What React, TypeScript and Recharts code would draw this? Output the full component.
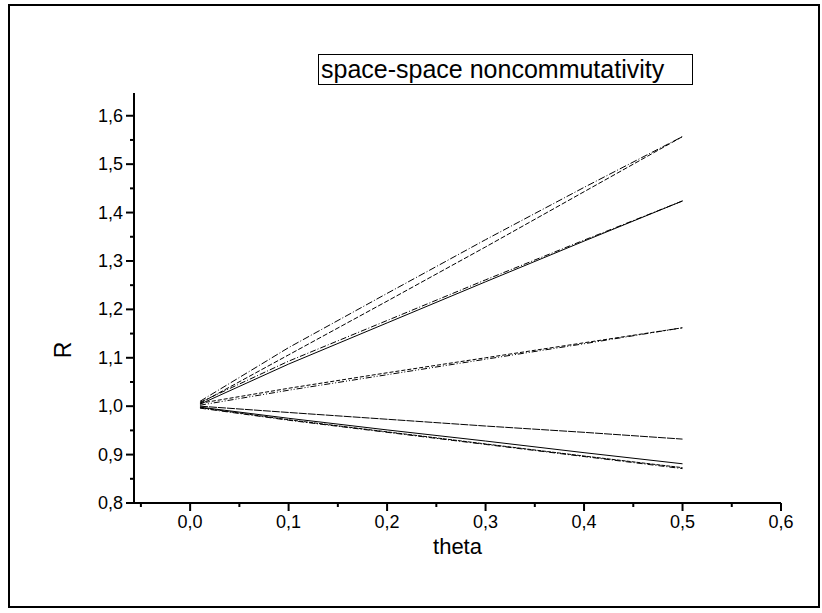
import React from "react";
import { LineChart, Line, XAxis, YAxis } from "recharts";

const thetaValues = [0.01, 0.1, 0.2, 0.3, 0.4, 0.5];
const seriesA = [1.01, 1.121, 1.233, 1.344, 1.452, 1.557];
const seriesB = [1.006, 1.106, 1.217, 1.329, 1.443, 1.557];
const seriesC = [1.008, 1.093, 1.177, 1.261, 1.343, 1.424];
const seriesD = [1.004, 1.087, 1.172, 1.257, 1.341, 1.424];
const seriesE = [1.006, 1.037, 1.069, 1.1, 1.131, 1.162];
const seriesF = [1.002, 1.033, 1.065, 1.097, 1.129, 1.162];
const seriesG = [1.0, 0.987, 0.973, 0.959, 0.946, 0.932];
const seriesH = [0.998, 0.975, 0.951, 0.928, 0.904, 0.881];
const seriesI = [0.997, 0.972, 0.947, 0.922, 0.897, 0.873];
const seriesJ = [0.996, 0.971, 0.946, 0.921, 0.896, 0.871];

const seriesList = [
  { key: "a", values: seriesA, dash: "7 2 1 2" },
  { key: "b", values: seriesB, dash: "5 2" },
  { key: "c", values: seriesC, dash: "6 2 1 2" },
  { key: "d", values: seriesD, dash: "" },
  { key: "e", values: seriesE, dash: "4 2" },
  { key: "f", values: seriesF, dash: "6 2 1 2 1 2" },
  { key: "g", values: seriesG, dash: "8 1" },
  { key: "h", values: seriesH, dash: "" },
  { key: "i", values: seriesI, dash: "4 1" },
  { key: "j", values: seriesJ, dash: "6 2 1 2" },
];

const xTicks = [-0.05, 0, 0.05, 0.1, 0.15, 0.2, 0.25, 0.3, 0.35, 0.4, 0.45, 0.5, 0.55, 0.6];
const yTicks = [0.8, 0.85, 0.9, 0.95, 1.0, 1.05, 1.1, 1.15, 1.2, 1.25, 1.3, 1.35, 1.4, 1.45, 1.5, 1.55, 1.6];

const data = thetaValues.map((t, i) => {
  const row: Record<string, number> = { theta: t };
  seriesList.forEach((s) => {
    row[s.key] = s.values[i];
  });
  return row;
});

const FONT = "'Liberation Sans', Arial, sans-serif";

const isMajor = (v: number) => Math.abs(v * 10 - Math.round(v * 10)) < 1e-6;
const fmt = (v: number) => v.toFixed(1).replace(".", ",");

const XTick = (props: any) => {
  const { x, y, payload } = props;
  const v = payload.value as number;
  const major = isMajor(v);
  return (
    <g>
      <line x1={x} y1={y} x2={x} y2={y + (major ? 8 : 4)} stroke="#000" strokeWidth={2} />
      {major && (
        <text x={x} y={y + 25} textAnchor="middle" fontSize={18} fontFamily={FONT} fill="#000">
          {fmt(v)}
        </text>
      )}
    </g>
  );
};

const YTick = (props: any) => {
  const { x, y, payload } = props;
  const v = payload.value as number;
  const major = isMajor(v);
  return (
    <g>
      <line x1={x} y1={y} x2={x - (major ? 8 : 4)} y2={y} stroke="#000" strokeWidth={2} />
      {major && (
        <text x={x - 11} y={y + 6} textAnchor="end" fontSize={18} fontFamily={FONT} fill="#000">
          {fmt(v)}
        </text>
      )}
    </g>
  );
};

const RLabel = (props: any) => {
  const { viewBox } = props;
  const cx = viewBox.x + 3;
  const cy = viewBox.y + viewBox.height / 2 + 52;
  return (
    <text
      x={cx}
      y={cy}
      textAnchor="middle"
      dominantBaseline="central"
      transform={`rotate(-90 ${cx} ${cy})`}
      fontSize={23}
      fontFamily={FONT}
      fill="#000"
    >
      R
    </text>
  );
};

export default function App() {
  return (
    <div style={{ position: "absolute", left: 0, top: 0, width: 822, height: 613, background: "#fff" }}>
      <div
        style={{
          position: "absolute",
          left: 8,
          top: 4,
          width: 808,
          height: 600,
          border: "2px solid #000",
        }}
      />
      <div style={{ position: "absolute", left: 0, top: 0 }}>
        <LineChart width={822} height={613} data={data} margin={{ top: 93, right: 41, left: 60, bottom: 0 }}>
          <XAxis
            dataKey="theta"
            type="number"
            domain={[-0.057, 0.6]}
            ticks={xTicks}
            allowDataOverflow
            height={110}
            tickSize={0}
            tickMargin={0}
            tick={<XTick />}
            tickLine={false}
            axisLine={{ stroke: "#000", strokeWidth: 2 }}
            label={{
              value: "theta",
              position: "insideTop",
              offset: 35,
              fontSize: 22,
              fontFamily: FONT,
              fill: "#000",
            }}
          />
          <YAxis
            type="number"
            domain={[0.8, 1.647]}
            ticks={yTicks}
            allowDataOverflow
            width={74}
            tickSize={0}
            tickMargin={0}
            tick={<YTick />}
            tickLine={false}
            axisLine={{ stroke: "#000", strokeWidth: 2 }}
            label={<RLabel />}
          />
          {seriesList.map((s) => (
            <Line
              key={s.key}
              dataKey={s.key}
              type="linear"
              stroke="#000"
              strokeWidth={1}
              strokeDasharray={s.dash || undefined}
              dot={false}
              activeDot={false}
              isAnimationActive={false}
            />
          ))}
        </LineChart>
      </div>
      <div
        style={{
          position: "absolute",
          left: 318,
          top: 54,
          width: 375,
          height: 31,
          border: "1px solid #000",
          fontFamily: FONT,
          fontSize: 25,
          lineHeight: "29px",
          paddingLeft: 2,
          boxSizing: "border-box",
          whiteSpace: "nowrap",
          overflow: "hidden",
        }}
      >
        space-space noncommutativity
      </div>
    </div>
  );
}
